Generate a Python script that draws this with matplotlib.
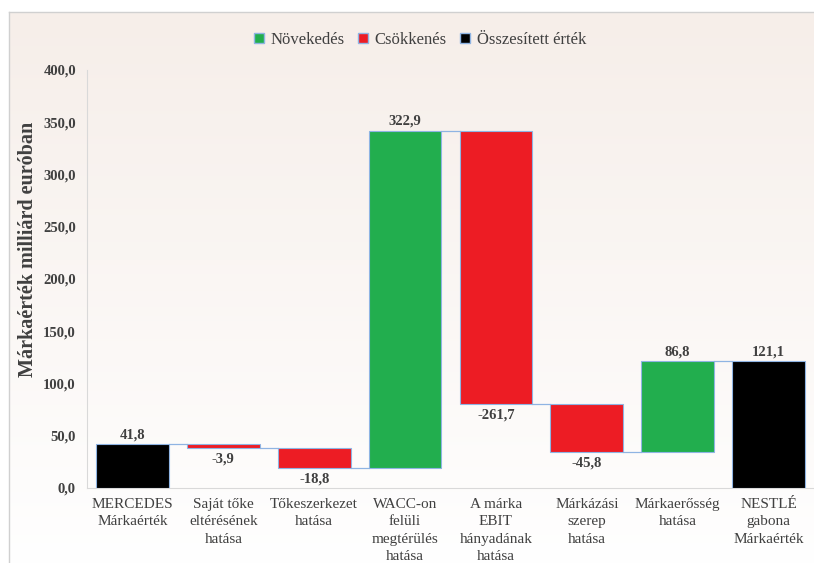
import numpy as np
import matplotlib
matplotlib.use('Agg')
import matplotlib.pyplot as plt
from matplotlib.patches import Patch
from matplotlib.ticker import FuncFormatter, MultipleLocator

# ---[DATA]---
categories = ['MERCEDES\nMárkaérték', 'Saját tőke\neltérésének\nhatása', 'Tőkeszerkezet\nhatása',
              'WACC-on\nfelüli\nmegtérülés\nhatása', 'A márka\nEBIT\nhányadának\nhatása',
              'Márkázási\nszerep\nhatása', 'Márkaerősség\nhatása', 'NESTLÉ\ngabona\nMárkaérték']
values = [41.8, -3.9, -18.8, 322.9, -261.7, -45.8, 86.8, 121.1]
kinds = ['total', 'change', 'change', 'change', 'change', 'change', 'change', 'total']
legend_labels = ['Növekedés', 'Csökkenés', 'Összesített érték']
# ------------

GREEN = '#22ae4e'
RED = '#ed1c24'
BLACK = '#000000'
EDGE = '#8fb4e3'
TXT = '#404040'

plt.rcParams['font.family'] = ['Liberation Serif', 'DejaVu Serif']

fig = plt.figure(figsize=(8.14, 5.63), dpi=100)
fig.patch.set_facecolor('white')

# background box with vertical gradient (pink at top -> white at bottom)
bg = fig.add_axes([9 / 814, -0.01, 1 - 9 / 814 + 0.01, 1 - 12 / 563 + 0.01])
top_c = np.array([246, 238, 233]) / 255
bot_c = np.array([255, 255, 255]) / 255
t = np.linspace(0, 1, 256)[:, None]
grad = np.clip(top_c[None, :] * (1 - t) + bot_c[None, :] * t, 0, 1)
bg.imshow(grad[::-1, None, :].repeat(2, axis=1), aspect='auto', extent=[0, 1, 0, 1], origin='lower')
bg.set_xlim(0, 1)
bg.set_ylim(0, 1)
bg.set_xticks([])
bg.set_yticks([])
for s in bg.spines.values():
    s.set_color('#d0d0d0')
    s.set_linewidth(1.0)

ax = fig.add_axes([87 / 814, 1 - 488 / 563, 1 - 87 / 814, (488 - 70) / 563])
ax.set_facecolor('none')

x = np.arange(len(values))
width = 0.8
level = 0.0
bottoms, heights, colors, levels = [], [], [], []
for v, k in zip(values, kinds):
    if k == 'total':
        bottoms.append(0)
        heights.append(v)
        colors.append(BLACK)
        level = v
    else:
        if v >= 0:
            bottoms.append(level)
            colors.append(GREEN)
        else:
            bottoms.append(level + v)
            colors.append(RED)
        heights.append(abs(v))
        level = level + v
    levels.append(level)

ax.bar(x, heights, bottom=bottoms, width=width, color=colors, edgecolor=EDGE, linewidth=0.8, zorder=3)

# connectors
for i in range(len(values) - 1):
    ax.plot([x[i] + width / 2, x[i + 1] - width / 2], [levels[i], levels[i]],
            color=EDGE, linewidth=0.9, zorder=2)

# value labels
for i, (v, k) in enumerate(zip(values, kinds)):
    lbl = '{:.1f}'.format(v).replace('.', ',')
    if k == 'total' or v >= 0:
        ax.annotate(lbl, (x[i], bottoms[i] + heights[i]), xytext=(0, 2), textcoords='offset points',
                    ha='center', va='bottom', fontsize=10.5, fontweight='bold', color=TXT)
    else:
        ax.annotate(lbl, (x[i], bottoms[i]), xytext=(0, -3), textcoords='offset points',
                    ha='center', va='top', fontsize=10.5, fontweight='bold', color=TXT)

ax.set_xlim(-0.5, len(values) - 0.5)
ax.set_ylim(0, 400)
ax.yaxis.set_major_locator(MultipleLocator(50))
ax.yaxis.set_major_formatter(FuncFormatter(lambda v, p: '{:.1f}'.format(v).replace('.', ',')))
ax.set_xticks(x)
ax.set_xticklabels(categories, fontsize=11, color=TXT, linespacing=1.45)
ax.tick_params(axis='both', length=0)
ax.tick_params(axis='x', pad=7)
ax.tick_params(axis='y', pad=8)
for lab in ax.get_yticklabels():
    lab.set_fontweight('bold')
    lab.set_fontsize(10.5)
    lab.set_color(TXT)

for side in ['top', 'right']:
    ax.spines[side].set_visible(False)
ax.spines['left'].set_color('#d9d9d9')
ax.spines['bottom'].set_color('#d9d9d9')

ax.set_ylabel('Márkaérték milliárd euróban', fontsize=14.5, fontweight='bold', color=TXT)
ax.yaxis.set_label_coords(-0.067, 0.571)

handles = [Patch(facecolor=GREEN, edgecolor=EDGE), Patch(facecolor=RED, edgecolor=EDGE),
           Patch(facecolor=BLACK, edgecolor=EDGE)]
fig.legend(handles, legend_labels, loc='center', bbox_to_anchor=(0.516, 0.929), ncol=3,
           frameon=False, fontsize=12, handlelength=0.6, handleheight=0.6, handletextpad=0.4,
           columnspacing=0.8, labelcolor=TXT)

fig.savefig('out.png', dpi=100)
